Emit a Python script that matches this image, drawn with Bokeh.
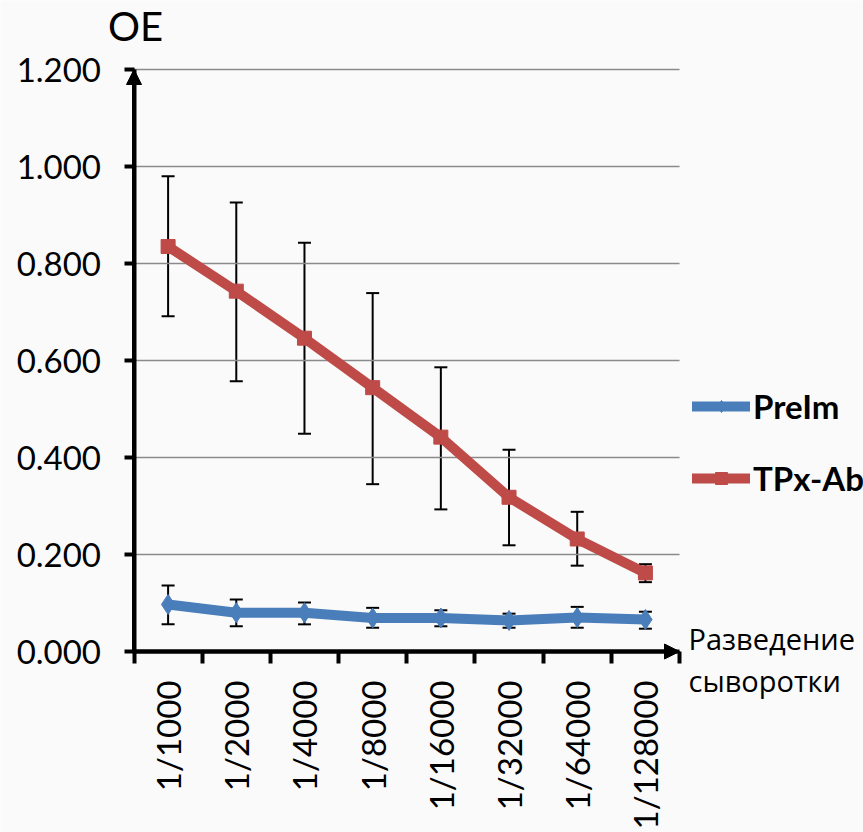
import numpy as np
from bokeh.plotting import figure
from bokeh.models import (Range1d, FixedTicker, PrintfTickFormatter, ColumnDataSource,
                          Whisker, TeeHead, Arrow, NormalHead, Legend, LegendItem, Label)
from bokeh.embed import file_html
from bokeh.resources import INLINE

# ---- data ----
dilutions = ["1/1000", "1/2000", "1/4000", "1/8000", "1/16000", "1/32000", "1/64000", "1/128000"]
preim = [0.097, 0.080, 0.080, 0.069, 0.069, 0.064, 0.070, 0.066]
preim_low = [0.056, 0.052, 0.056, 0.049, 0.052, 0.049, 0.049, 0.047]
preim_high = [0.136, 0.107, 0.101, 0.090, 0.085, 0.078, 0.092, 0.082]
tpx = [0.835, 0.743, 0.646, 0.544, 0.442, 0.318, 0.232, 0.162]
tpx_low = [0.691, 0.557, 0.449, 0.345, 0.293, 0.219, 0.177, 0.143]
tpx_high = [0.980, 0.926, 0.843, 0.739, 0.586, 0.416, 0.288, 0.180]
y_ticks = [0.0, 0.2, 0.4, 0.6, 0.8, 1.0, 1.2]
y_label = "OE"
x_label_lines = ["Разведение", "сыворотки"]
series_names = ["PreIm", "TPx-Ab"]

# ---- style / layout ----
BLUE = "#4A7EBB"
RED = "#BE4B48"
BG = "#fafafa"
GRID = "#8a8a8a"
FONT = "Lato"
W, H = 863, 832
AX_LEFT, AX_RIGHT = 133.5, 679.0   # pixel x of the plotting area
AX_TOP, AX_BOTTOM = 69.0, 651.0    # pixel y of the plotting area

n = len(dilutions)
xs = [i + 0.5 for i in range(n)]
y0, y1 = y_ticks[0], y_ticks[-1]

# ranges chosen so the whole canvas is the frame; axes are placed at fixed locations
xu = (AX_RIGHT - AX_LEFT) / n
yu = (AX_BOTTOM - AX_TOP) / (y1 - y0)
x_range = Range1d(0 - AX_LEFT / xu, n + (W - AX_RIGHT) / xu)
y_range = Range1d(y0 - (H - AX_BOTTOM) / yu, y1 + AX_TOP / yu)

src_b = ColumnDataSource(dict(x=xs, y=preim, lo=preim_low, hi=preim_high))
src_r = ColumnDataSource(dict(x=xs, y=tpx, lo=tpx_low, hi=tpx_high))
src_g = ColumnDataSource(dict(x0=[0] * len(y_ticks), x1=[n] * len(y_ticks), y=y_ticks))

p = figure(width=W, height=H, output_backend="svg", toolbar_location=None,
           x_range=x_range, y_range=y_range,
           min_border_left=0, min_border_right=0, min_border_top=0, min_border_bottom=0)
p.background_fill_color = BG
p.border_fill_color = BG
p.outline_line_color = None
p.xgrid.visible = False
p.ygrid.visible = False

# horizontal grid lines over the plotting area only
p.segment(x0="x0", x1="x1", y0="y", y1="y", source=src_g, line_color=GRID, line_width=1.5)

# x axis
xa = p.xaxis[0]
xa.fixed_location = y0
xa.bounds = (0, n)
xa.ticker = FixedTicker(ticks=xs, minor_ticks=list(range(n + 1)))
xa.major_label_overrides = {x: lab for x, lab in zip(xs, dilutions)}
xa.major_label_orientation = np.pi / 2
xa.major_tick_line_color = None
xa.major_tick_out = 0
xa.major_tick_in = 0
xa.minor_tick_out = 12
xa.minor_tick_in = 0
xa.minor_tick_line_width = 4
xa.minor_tick_line_color = "black"
xa.axis_line_width = 4
xa.axis_line_color = "black"
xa.major_label_standoff = 17
xa.major_label_text_font = FONT
xa.major_label_text_font_size = "33px"
xa.major_label_text_color = "black"

# y axis
ya = p.yaxis[0]
ya.fixed_location = 0
ya.bounds = (y0, y1)
ya.ticker = FixedTicker(ticks=y_ticks)
ya.formatter = PrintfTickFormatter(format="%.3f")
ya.major_tick_out = 10
ya.major_tick_in = 0
ya.major_tick_line_width = 4
ya.major_tick_line_color = "black"
ya.minor_tick_line_color = None
ya.axis_line_width = 4
ya.axis_line_color = "black"
ya.major_label_standoff = 23
ya.major_label_text_font = FONT
ya.major_label_text_font_size = "33px"
ya.major_label_text_color = "black"

# error bars
for src in (src_b, src_r):
    w = Whisker(base="x", lower="lo", upper="hi", source=src, line_color="black", line_width=2,
                upper_head=TeeHead(size=13, line_width=2, line_color="black"),
                lower_head=TeeHead(size=13, line_width=2, line_color="black"),
                level="underlay")
    p.add_layout(w)

lb = p.line("x", "y", source=src_b, line_color=BLUE, line_width=10, line_cap="round", line_join="round")
mb = p.scatter("x", "y", source=src_b, marker="diamond", size=20, fill_color=BLUE, line_color=BLUE)
lr = p.line("x", "y", source=src_r, line_color=RED, line_width=10, line_cap="round", line_join="round")
mr = p.scatter("x", "y", source=src_r, marker="square", size=14, fill_color=RED, line_color=RED)

# axis arrow heads
p.add_layout(Arrow(end=NormalHead(size=15, fill_color="black", line_color="black", line_width=1),
                   x_start=0, y_start=y0, x_end=0, y_end=y1,
                   line_width=4, line_color="black"))
p.add_layout(Arrow(end=NormalHead(size=15, fill_color="black", line_color="black", line_width=1),
                   x_start=0, y_start=y0, x_end=n, y_end=y0,
                   line_width=4, line_color="black"))

legend = Legend(items=[LegendItem(label=series_names[0], renderers=[lb, mb]),
                       LegendItem(label=series_names[1], renderers=[lr, mr])],
                location=(692, 334), padding=0, margin=0, spacing=32,
                glyph_width=58, glyph_height=30, label_height=30, label_standoff=3,
                border_line_color=None, background_fill_alpha=0,
                label_text_font=FONT, label_text_font_style="bold",
                label_text_font_size="33px", label_text_color="black")
p.add_layout(legend)

p.add_layout(Label(x=0, y=y1, text=y_label, x_offset=-26, y_offset=20,
                   text_font=FONT, text_font_size="40px", text_baseline="bottom",
                   text_color="black"))
p.add_layout(Label(x=n, y=y0, text=x_label_lines[0], x_offset=9, y_offset=13,
                   text_font="Open Sans", text_font_size="29px", text_baseline="middle",
                   text_color="black"))
p.add_layout(Label(x=n, y=y0, text=x_label_lines[1], x_offset=9, y_offset=-29,
                   text_font="Open Sans", text_font_size="29px", text_baseline="middle",
                   text_color="black"))

open("out.html", "w").write(file_html(p, INLINE))
